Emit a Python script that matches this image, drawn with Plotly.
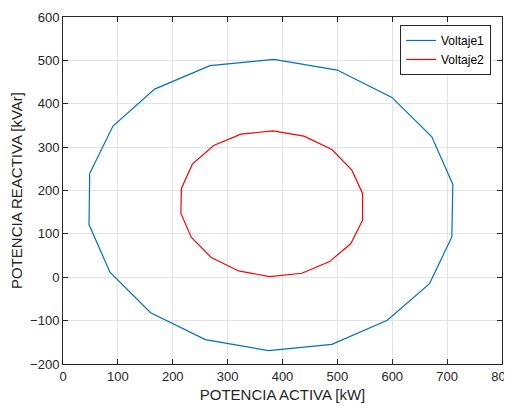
import plotly.graph_objects as go

# Voltaje1 (blue) vertices, closed loop
v1_p = [48.6, 91.1, 167.0, 267.8, 384.3, 499.8, 599.3, 672.1, 710.4, 708.6,
        668.0, 590.9, 490.0, 374.7, 259.4, 159.7, 85.6, 47.4, 48.6]
v1_q = [239.3, 348.5, 433.8, 487.7, 502.4, 477.7, 414.7, 323.8, 213.9, 93.0,
        -14.6, -99.3, -154.7, -169.2, -143.8, -81.9, 11.5, 121.6, 239.3]

# Voltaje2 (red) vertices, closed loop
v2_p = [215.7, 235.7, 274.5, 324.2, 382.5, 439.0, 490.0, 526.4, 545.9, 545.9,
        524.6, 485.8, 435.3, 376.5, 320.0, 270.3, 233.9, 214.9, 215.7]
v2_q = [204.6, 260.8, 303.8, 330.0, 337.6, 325.4, 294.6, 246.9, 193.1, 131.5,
        77.7, 36.1, 9.2, 1.5, 14.5, 45.4, 91.6, 147.0, 204.6]

x_ticks = [0, 100, 200, 300, 400, 500, 600, 700, 800]
y_ticks = [-200, -100, 0, 100, 200, 300, 400, 500, 600]

FONT = "Liberation Sans, Arial"

fig = go.Figure()
fig.add_trace(go.Scatter(x=v1_p, y=v1_q, mode="lines", name="Voltaje1",
                         line=dict(color="#0072BD", width=1.2)))
fig.add_trace(go.Scatter(x=v2_p, y=v2_q, mode="lines", name="Voltaje2",
                         line=dict(color="#FF0000", width=1.2)))

axis_common = dict(
    showgrid=True, gridcolor="#E3E3E3", gridwidth=1,
    showline=True, linecolor="#262626", linewidth=1, mirror="ticks",
    ticks="inside", ticklen=5, tickcolor="#262626",
    zeroline=False, automargin=False, ticklabeloverflow="allow",
    tickfont=dict(family=FONT, size=13, color="#262626"),
)

fig.update_layout(
    width=512, height=400,
    margin=dict(l=55, r=18, t=9, b=44),
    paper_bgcolor="white", plot_bgcolor="white",
    xaxis=dict(range=[0, 800], tickvals=x_ticks,
               title=dict(text="POTENCIA ACTIVA [kW]", standoff=6,
                          font=dict(family=FONT, size=15, color="#262626")),
               **axis_common),
    yaxis=dict(range=[-200, 600], tickvals=y_ticks,
               title=dict(text="POTENCIA REACTIVA [kVAr]", standoff=6,
                          font=dict(family=FONT, size=15, color="#262626")),
               **axis_common),
    legend=dict(x=0.975, y=0.977, xanchor="right", yanchor="top",
                bgcolor="white", bordercolor="#262626", borderwidth=1,
                font=dict(family=FONT, size=12, color="#000000"),
                tracegroupgap=0, itemwidth=30),
    showlegend=True,
)

fig.write_html("out.html")
